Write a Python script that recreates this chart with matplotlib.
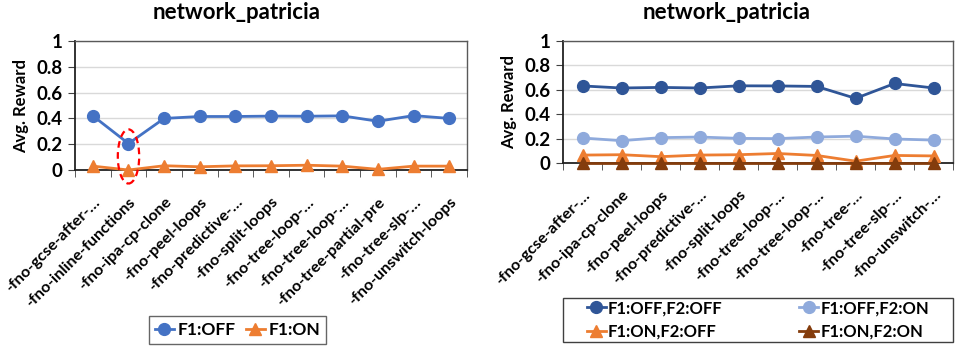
import numpy as np
import matplotlib
matplotlib.use("Agg")
import matplotlib.pyplot as plt
from matplotlib.patches import Ellipse, Rectangle

plt.rcParams["font.family"] = ["Lato", "DejaVu Sans"]
plt.rcParams["font.weight"] = "bold"

# ── data ──────────────────────────────────────────────────────────────────────
left_labels = ["-fno-gcse-after-…", "-fno-inline-functions", "-fno-ipa-cp-clone",
               "-fno-peel-loops", "-fno-predictive-…", "-fno-split-loops",
               "-fno-tree-loop-…", "-fno-tree-loop-…", "-fno-tree-partial-pre",
               "-fno-tree-slp-…", "-fno-unswitch-loops"]
left_f1_off = [0.42, 0.205, 0.40, 0.415, 0.415, 0.418, 0.417, 0.42, 0.378, 0.422, 0.40]
left_f1_on = [0.03, 0.0, 0.033, 0.025, 0.032, 0.033, 0.037, 0.03, 0.005, 0.03, 0.03]

right_labels = ["-fno-gcse-after-…", "-fno-ipa-cp-clone", "-fno-peel-loops",
                "-fno-predictive-…", "-fno-split-loops", "-fno-tree-loop-…",
                "-fno-tree-loop-…", "-fno-tree-…", "-fno-tree-slp-…",
                "-fno-unswitch-…"]
off_off = [0.632, 0.615, 0.62, 0.615, 0.633, 0.632, 0.628, 0.53, 0.652, 0.615]
off_on = [0.205, 0.183, 0.208, 0.213, 0.202, 0.200, 0.213, 0.220, 0.197, 0.188]
on_off = [0.065, 0.068, 0.052, 0.065, 0.068, 0.078, 0.062, 0.015, 0.062, 0.058]
on_on = [0.0, 0.0, 0.0, 0.0, 0.0, 0.0, 0.0, 0.0, 0.0, 0.0]

# ── palette ───────────────────────────────────────────────────────────────────
BLUE = "#4472C4"
ORANGE = "#ED7D31"
DARK_BLUE = "#2F5597"
LIGHT_BLUE = "#8FAADC"
BROWN = "#843C0C"
GRID = "#D9D9D9"
EDGE = "#404040"

TITLE = "network_patricia"


def style_axes(ax, labels, title_x):
    n = len(labels)
    x = np.arange(n) + 0.5
    ax.set_xlim(0, n)
    ax.set_ylim(0, 1)
    ax.set_yticks([0, 0.2, 0.4, 0.6, 0.8, 1.0])
    ax.set_yticklabels(["0", "0.2", "0.4", "0.6", "0.8", "1"], fontsize=13.5, fontweight="bold")
    ax.set_xticks(x)
    ax.set_xticklabels(labels, rotation=45, ha="right", rotation_mode="anchor",
                       fontsize=11.6, fontweight="bold")
    ax.tick_params(axis="x", which="major", length=0, pad=18)
    ax.set_xticks(np.arange(n + 1), minor=True)
    ax.tick_params(axis="x", which="minor", length=5, direction="out", color=EDGE)
    ax.tick_params(axis="y", length=5, direction="out", color=EDGE, pad=4)
    ax.grid(True, axis="y", color=GRID, linewidth=1)
    ax.set_axisbelow(True)
    for s in ["left", "bottom"]:
        ax.spines[s].set_color("#222222")
        ax.spines[s].set_linewidth(1.3)
    for s in ["top", "right"]:
        ax.spines[s].set_color("#595959")
        ax.spines[s].set_linewidth(1.0)
    ax.set_ylabel("Avg. Reward", fontsize=12, fontweight="bold", labelpad=5)
    ax.set_title(TITLE, fontsize=16, fontweight="bold", x=title_x, pad=16)
    return x


fig = plt.figure(figsize=(9.56, 3.48), dpi=100)

# left chart
ax1 = fig.add_axes([0.0785, 0.5115, 0.41, 0.3705])
x1 = style_axes(ax1, left_labels, 0.413)
ax1.plot(x1, left_f1_off, color=BLUE, marker="o", markersize=8.5, linewidth=2,
         label="F1:OFF", clip_on=False, zorder=3)
ax1.plot(x1, left_f1_on, color=ORANGE, marker="^", markersize=8, linewidth=2,
         label="F1:ON", clip_on=False, zorder=3)
ax1.add_patch(Ellipse((x1[1], 0.105), 0.6, 0.42, fill=False, edgecolor="red",
                      linestyle=(0, (3, 2)), linewidth=1.6, clip_on=False, zorder=4))
ax1.legend(loc="upper center", bbox_to_anchor=(0.414, -1.13), borderaxespad=0,
           ncol=2, frameon=True, fancybox=False, edgecolor=EDGE, handlelength=1.1,
           handletextpad=0.2, columnspacing=0.6, borderpad=0.35,
           prop={"weight": "bold", "size": 12.5})

# right chart
ax2 = fig.add_axes([0.589, 0.5316, 0.408, 0.3504])
x2 = style_axes(ax2, right_labels, 0.42)
h_off_off, = ax2.plot(x2, off_off, color=DARK_BLUE, marker="o", markersize=8.5, linewidth=2,
                      label="F1:OFF,F2:OFF", clip_on=False, zorder=3)
h_off_on, = ax2.plot(x2, off_on, color=LIGHT_BLUE, marker="o", markersize=8.5, linewidth=2,
                     label="F1:OFF,F2:ON", clip_on=False, zorder=3)
h_on_off, = ax2.plot(x2, on_off, color=ORANGE, marker="^", markersize=8, linewidth=2,
                     label="F1:ON,F2:OFF", clip_on=False, zorder=3)
h_on_on, = ax2.plot(x2, on_on, color=BROWN, marker="^", markersize=8, linewidth=2,
                    label="F1:ON,F2:ON", clip_on=False, zorder=3)
# legend frame spans the full plot width, entries sit inside it
ax2.add_patch(Rectangle((0, -1.468), 1, 0.361, transform=ax2.transAxes, fill=False,
                        edgecolor=EDGE, linewidth=1, clip_on=False))
handles = [h_off_off, h_on_off, h_off_on, h_on_on]
ax2.legend(handles, [h.get_label() for h in handles], loc="center",
           bbox_to_anchor=(0.5, -1.2875), borderaxespad=0, ncol=2, frameon=False,
           handlelength=1.1, handletextpad=0.15, columnspacing=4.6, labelspacing=0.45,
           prop={"weight": "bold", "size": 12})

fig.savefig("out.png", dpi=100)
